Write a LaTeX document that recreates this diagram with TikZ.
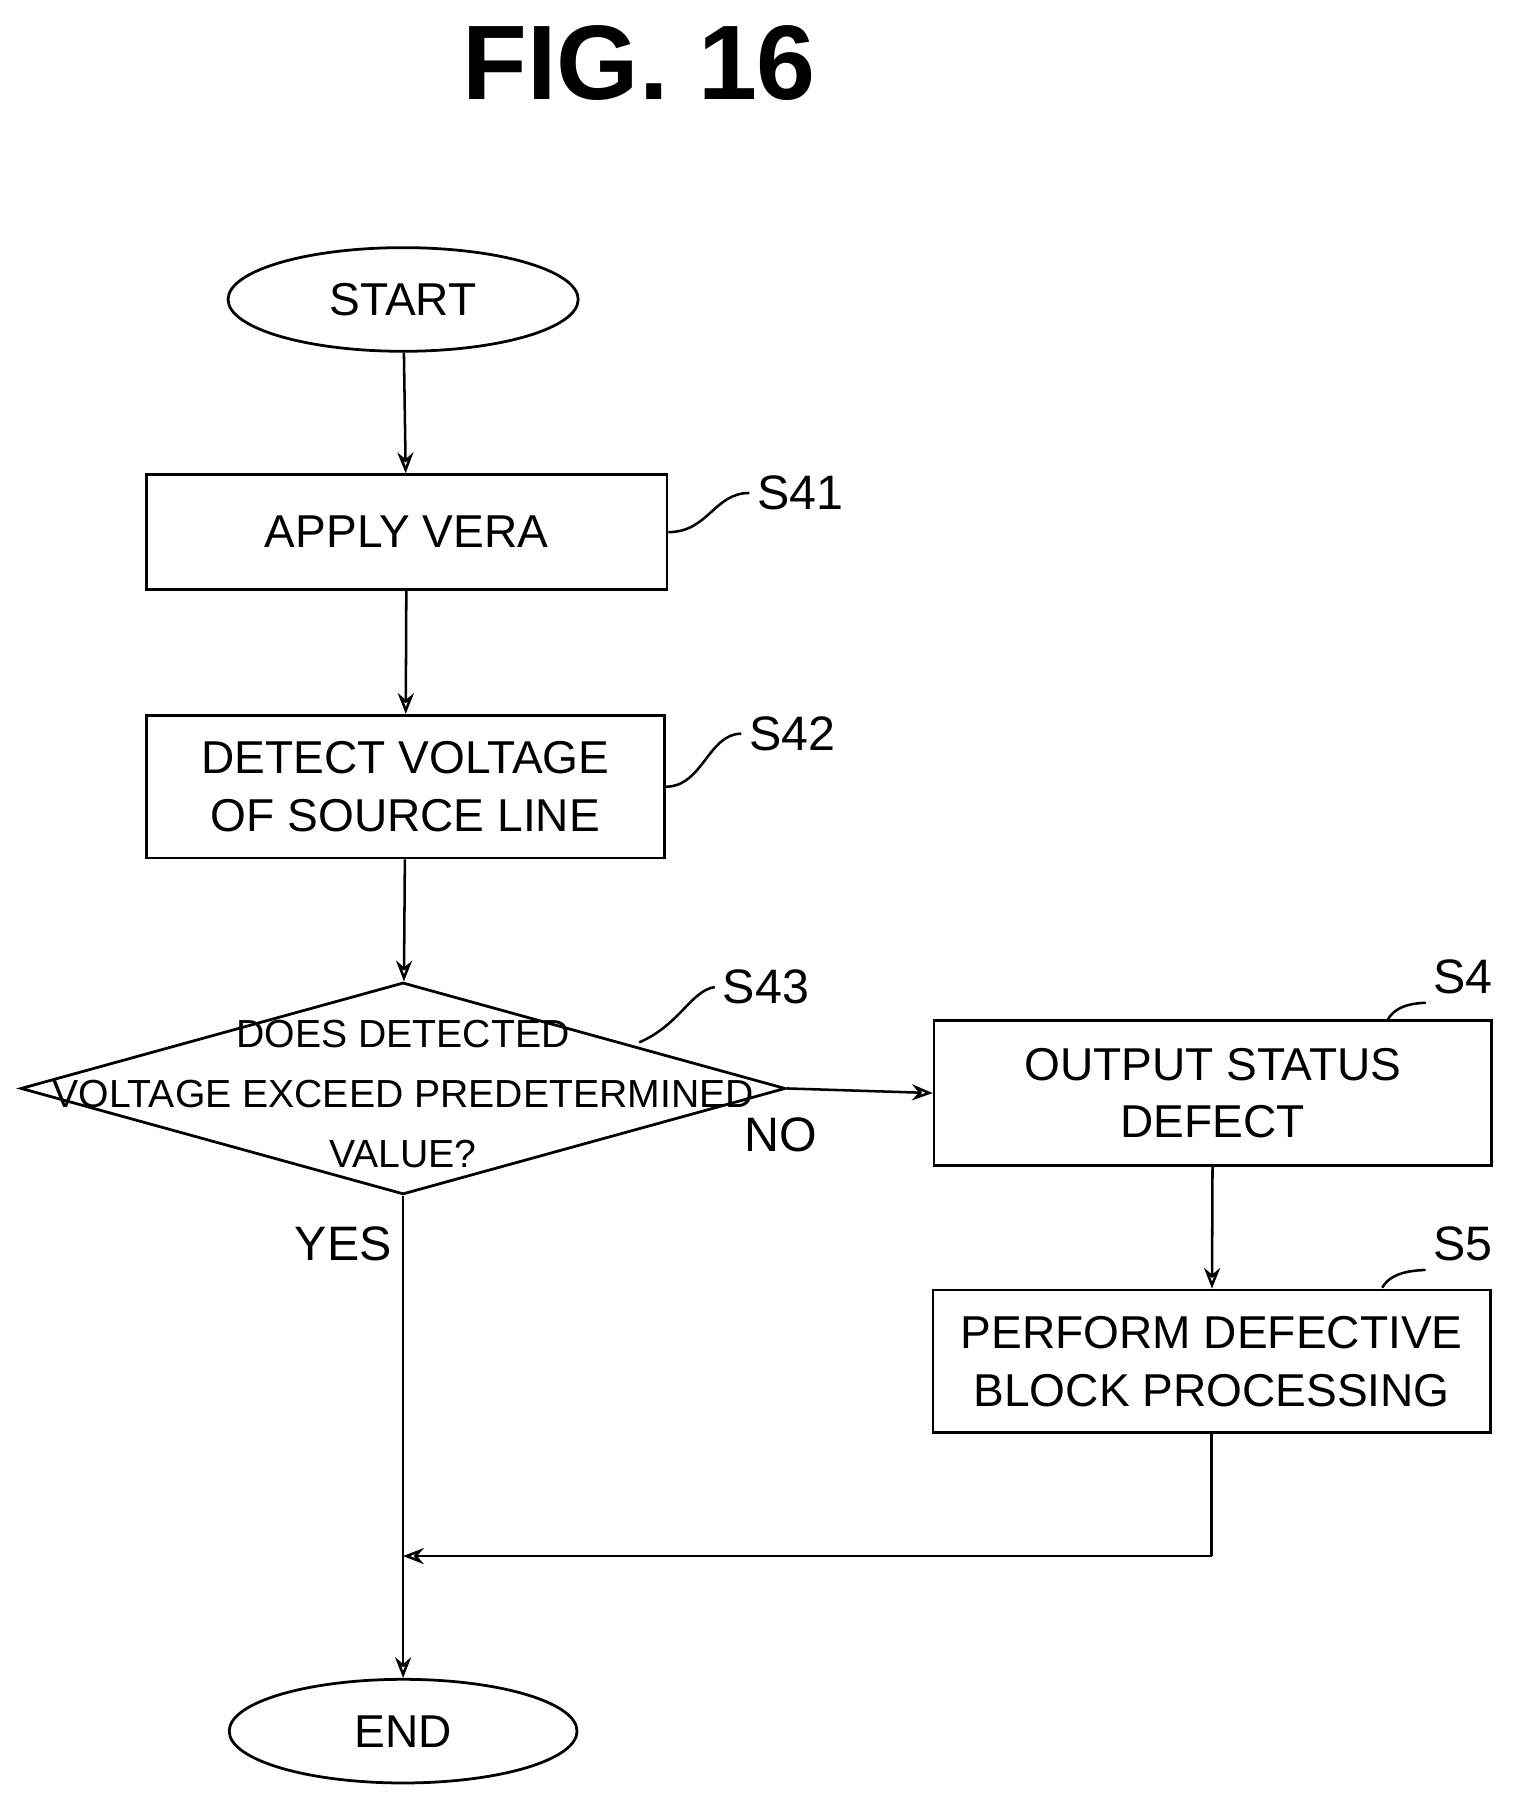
\documentclass[tikz,border=0pt]{standalone}
\usepackage{fontspec}
\setmainfont{Liberation Sans}
\usetikzlibrary{shapes.geometric,arrows.meta}
\begin{document}
\begin{tikzpicture}[x=0.5pt,y=-0.5pt,
  box/.style={draw,line width=1.2pt,minimum width=226pt,minimum height=62pt,align=center,font=\fontsize{20}{25}\selectfont},
  oval/.style={draw,ellipse,line width=1.2pt,minimum width=152pt,minimum height=45pt,font=\fontsize{20}{24}\selectfont},
  arr/.style={line width=1.1pt,-{Stealth[open,length=9pt,width=7pt]}},
  ln/.style={line width=1.1pt},
  lab/.style={font=\fontsize{21}{24}\selectfont}]
\useasboundingbox (0,0) rectangle (1320,1568);
\node[font=\bfseries\fontsize{46}{50}\selectfont] (title) at (555,55) {FIG. 16};
\node[oval] (start) at (350,260) {START};
\node[box,minimum width=226pt,minimum height=50pt] (s41) at (353,462) {APPLY VERA};
\node[box,minimum width=225pt] (s42) at (352,683) {DETECT VOLTAGE\\OF SOURCE LINE};
\node[draw,diamond,line width=1.2pt,minimum width=332pt,minimum height=92pt,inner sep=0pt] (s43) at (350,945) {};
\node[align=center,font=\fontsize{17}{26}\selectfont] (s43t) at (350,950) {DOES DETECTED\\VOLTAGE EXCEED PREDETERMINED\\VALUE?};
\node[box,minimum width=242pt,minimum height=63pt] (s4) at (1053,949) {OUTPUT STATUS\\DEFECT};
\node[box,minimum width=242pt,minimum height=62pt] (s5) at (1052,1182) {PERFORM DEFECTIVE\\BLOCK PROCESSING};
\node[oval,minimum width=151pt] (end) at (350,1503) {END};
\node[lab] (l41) at (695,428) {S41};
\node[lab] (l42) at (688,637) {S42};
\node[lab] (l43) at (665,857) {S43};
\node[lab] (l4) at (1270,848) {S4};
\node[lab] (l5) at (1270,1080) {S5};
\node[lab] (no) at (678,985) {NO};
\node[lab] (yes) at (298,1080) {YES};
\coordinate (m) at (350,1351);
\coordinate (c5) at (1052,1351);
\draw[arr] (start) -- (s41);
\draw[arr] (s41) -- (s42);
\draw[arr] (s42) -- (s43);
\draw[arr] (s43.east) -- (s4.west);
\draw[arr] (s4) -- (s5);
\draw[ln] (s43.south) -- (m);
\draw[arr] (m) -- (end);
\draw[ln] (s5.south) -- (c5);
\draw[arr] (c5) -- (m);
\draw[ln] (s41.east) .. controls (615,462) and (620,428) .. (l41.west);
\draw[ln] (s42.east) .. controls (610,683) and (615,637) .. (l42.west);
\draw[ln] (555,905) .. controls (590,890) and (600,860) .. (l43.west);
\draw[ln] (1205,885) .. controls (1215,868) and (1240,872) .. (l4.south west);
\draw[ln] (1200,1118) .. controls (1210,1100) and (1240,1104) .. (l5.south west);
\end{tikzpicture}
\end{document}
